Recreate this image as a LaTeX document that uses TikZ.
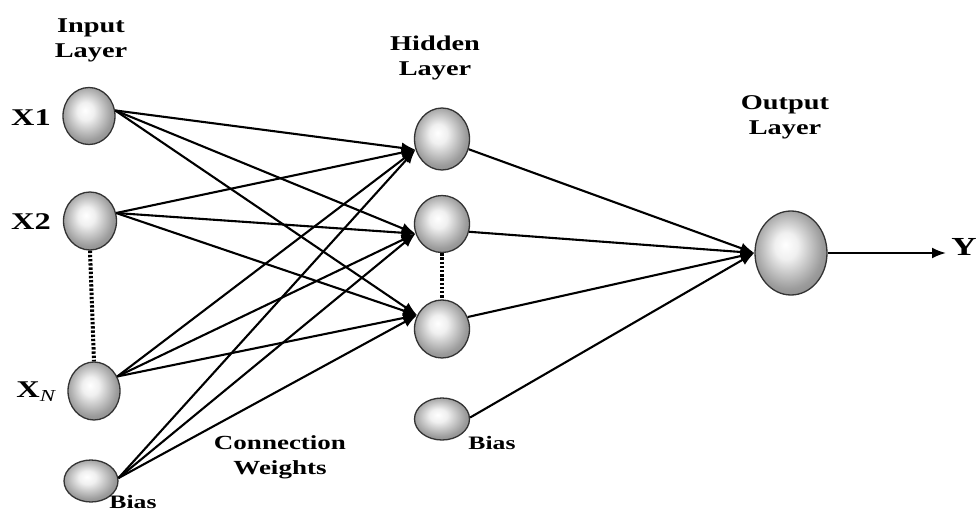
\documentclass[tikz,border=0pt]{standalone}
\usepackage{fontspec}
\setmainfont{Liberation Serif}
\usetikzlibrary{shapes.geometric,arrows.meta}
\pgfdeclareradialshading{ballsh}{\pgfpoint{-4bp}{5bp}}{color(0bp)=(white); color(8bp)=(white!88!gray); color(24bp)=(gray!78); color(40bp)=(gray!88!black); color(50bp)=(gray!65!black)}
\newcommand{\wlbl}[1]{\scalebox{1.35}[1]{#1}}
\tikzset{
  neuron/.style={ellipse, draw=black!80, line width=1.3pt, shading=ballsh, inner sep=0pt},
  conn/.style={line width=2.1pt, -{Latex[length=14pt,width=11pt]}},
  dotline/.style={line width=4pt, dash pattern=on 2.4pt off 1.8pt},
  lbl/.style={font=\bfseries\fontsize{21}{25}\selectfont, align=center, inner sep=0pt},
  xlbl/.style={font=\bfseries\fontsize{24}{28}\selectfont, inner sep=0pt},
  blbl/.style={font=\bfseries\fontsize{19}{22}\selectfont, inner sep=0pt}
}
\begin{document}
\begin{tikzpicture}[x=1pt,y=-1pt]
\useasboundingbox (0,0) rectangle (978,514);
% input layer
\node[neuron, minimum width=52pt, minimum height=57pt] (x1) at (89,116) {};
\node[neuron, minimum width=53pt, minimum height=58pt] (x2) at (90,221) {};
\node[neuron, minimum width=52pt, minimum height=58pt] (xn) at (94,391) {};
\node[neuron, minimum width=54pt, minimum height=42pt] (b1) at (91,481) {};
% hidden layer
\node[neuron, minimum width=55pt, minimum height=62pt] (h1) at (442,139) {};
\node[neuron, minimum width=55pt, minimum height=57pt] (h2) at (442,224) {};
\node[neuron, minimum width=55pt, minimum height=58pt] (h3) at (442,329) {};
\node[neuron, minimum width=55pt, minimum height=42pt] (hb) at (442,419) {};
% output
\node[neuron, minimum width=72pt, minimum height=84pt] (out) at (791,253) {};
\coordinate (yend) at (946,253);
% dotted lines
\draw[dotline] (x2.south) -- (xn.north);
\draw[dotline] (h2.south) -- (h3.north);
% input -> hidden
\foreach \s/\a in {x1/12, x2/17, xn/32, b1/6}{
  \draw[conn] (\s.\a) -- (h1.202);
  \draw[conn] (\s.\a) -- (h2.200);
  \draw[conn] (\s.\a) -- (h3.151);
}
% hidden -> output
\draw[conn] (h1.339) -- (out.180);
\draw[conn] (h2.344) -- (out.180);
\draw[conn] (h3.25) -- (out.180);
\draw[conn] (hb.3) -- (out.180);
\draw[conn] (out.east) -- (yend);
% labels
\node[lbl] (tin) at (91,40) {\wlbl{\begin{tabular}{@{}c@{}}Input\\Layer\end{tabular}}};
\node[lbl] (thid) at (435,58) {\wlbl{\begin{tabular}{@{}c@{}}Hidden\\Layer\end{tabular}}};
\node[lbl] (tout) at (785,117) {\wlbl{\begin{tabular}{@{}c@{}}Output\\Layer\end{tabular}}};
\node[lbl, font=\bfseries\fontsize{20}{25}\selectfont] (tcw) at (280,457) {\wlbl{\begin{tabular}{@{}c@{}}Connection\\Weights\end{tabular}}};
\node[xlbl] (lx1) at (31,118) {\wlbl{X1}};
\node[xlbl] (lx2) at (31,222) {\wlbl{X2}};
\node[xlbl] (lxn) at (36,392) {\wlbl{X$_{\mathit{N}}$}};
\node[blbl] (lb1) at (133,502) {\wlbl{Bias}};
\node[blbl] (lhb) at (492,443) {\wlbl{Bias}};
\node[xlbl, anchor=base east, font=\bfseries\fontsize{26}{30}\selectfont] (ly) at (977,255) {\wlbl{Y}};
\end{tikzpicture}
\end{document}
